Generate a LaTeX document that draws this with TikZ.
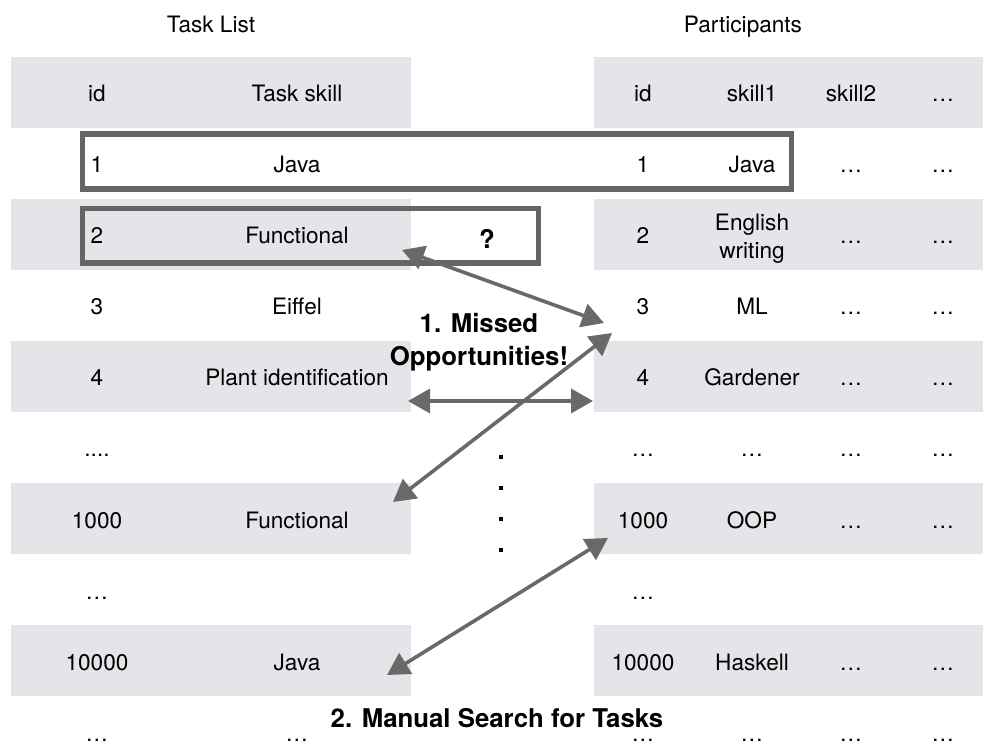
\documentclass[tikz,border=0pt]{standalone}
\usepackage{fontspec}
\setmainfont{TeX Gyre Heros}
\usetikzlibrary{arrows.meta}

\definecolor{bandgray}{RGB}{228,229,233}
\definecolor{boxgray}{RGB}{101,101,101}
\definecolor{arrowgray}{RGB}{105,105,105}

\newcommand\celltextstyle{\fontsize{11.3}{14}\selectfont}
\newcommand\notetextstyle{\fontsize{12.9}{16.5}\selectfont\bfseries}
\newcommand\rowhalf{35.5}
\newcommand\taskband[1]{
  \fill[bandgray] (11, #1 - \rowhalf) rectangle (411, #1 + \rowhalf) ;
}
\newcommand\partband[1]{
  \fill[bandgray] (594, #1 - \rowhalf) rectangle (983, #1 + \rowhalf) ;
}
\newcommand\taskrow[4]{
  \node[cell] (#1id) at (97, #2) {#3} ;
  \node[cell] (#1skill) at (297, #2) {#4} ;
}
\newcommand\partrow[6]{
  \node[cell] (#1id) at (643, #2) {#3} ;
  \node[cell] (#1one) at (752, #2) {#4} ;
  \node[cell] (#1two) at (851, #2) {#5} ;
  \node[cell] (#1more) at (943, #2) {#6} ;
}
\newcommand\vdot[1]{
  \fill (499, #1 - 2) rectangle ++ (4, 4) ;
}

\tikzset{
  cell/.style={font=\celltextstyle, inner sep=0pt, text height=11pt, text depth=1.5pt},
  note/.style={font=\notetextstyle, inner sep=0pt, align=center},
  hlbox/.style={draw=boxgray, line width=2.7pt},
  sketch/.style={arrowgray, line width=1.8pt,
    {Triangle[length=11pt,width=12pt]}-{Triangle[length=11pt,width=12pt]}}
}

\begin{document}
\begin{tikzpicture}[x=0.5pt, y=-0.5pt]
    \useasboundingbox (0, 0) rectangle (983, 747) ;
    \taskband{92.5}
    \taskband{234.5}
    \taskband{376.5}
    \taskband{518.5}
    \taskband{660.5}
    \partband{92.5}
    \partband{234.5}
    \partband{376.5}
    \partband{518.5}
    \partband{660.5}
    \draw[hlbox] (82.5, 134) rectangle (791.5, 189) ;
    \draw[hlbox] (82.5, 208.5) rectangle (538.5, 263) ;
    \node[cell] (tasktitle) at (211, 23) {Task List} ;
    \node[cell] (parttitle) at (743, 23) {Participants} ;
    \taskrow{th}{92.5}{id}{Task skill}
    \taskrow{t1}{163.5}{1}{Java}
    \taskrow{t2}{234.5}{2}{Functional}
    \taskrow{t3}{305.5}{3}{Eiffel}
    \taskrow{t4}{376.5}{4}{Plant identification}
    \taskrow{t5}{447.5}{....}{}
    \taskrow{t6}{518.5}{1000}{Functional}
    \taskrow{t7}{589.5}{…}{}
    \taskrow{t8}{660.5}{10000}{Java}
    \taskrow{t9}{731.5}{…}{…}
    \partrow{ph}{92.5}{id}{skill1}{skill2}{…}
    \partrow{p1}{163.5}{1}{Java}{…}{…}
    \partrow{p2}{234.5}{2}{\begin{tabular}{@{}c@{}}English\\writing\end{tabular}}{…}{…}
    \partrow{p3}{305.5}{3}{ML}{…}{…}
    \partrow{p4}{376.5}{4}{Gardener}{…}{…}
    \partrow{p5}{447.5}{…}{…}{…}{…}
    \partrow{p6}{518.5}{1000}{OOP}{…}{…}
    \partrow{p7}{589.5}{…}{}{}{}
    \partrow{p8}{660.5}{10000}{Haskell}{…}{…}
    \partrow{p9}{731.5}{…}{…}{…}{…}
    \node[note] (unknown) at (487, 239) {?} ;
    \node[note] (missed) at (479, 342) {1. Missed\\Opportunities!} ;
    \node[note] (manual) at (497, 718) {2. Manual Search for Tasks} ;
    \vdot{457}
    \vdot{488}
    \vdot{519}
    \vdot{550}
    \coordinate (fnend) at (402, 250) ;
    \coordinate (mlend) at (604, 323) ;
    \coordinate (gdend) at (612, 333) ;
    \coordinate (fkend) at (393, 502) ;
    \coordinate (plend) at (408, 401) ;
    \coordinate (gpend) at (593, 401) ;
    \coordinate (oopend) at (608, 538) ;
    \coordinate (jvend) at (387, 675) ;
    \draw[sketch] (fnend) -- (mlend) ;
    \draw[sketch] (gdend) -- (fkend) ;
    \draw[sketch] (plend) -- (gpend) ;
    \draw[sketch] (oopend) -- (jvend) ;
  \end{tikzpicture}
\end{document}
